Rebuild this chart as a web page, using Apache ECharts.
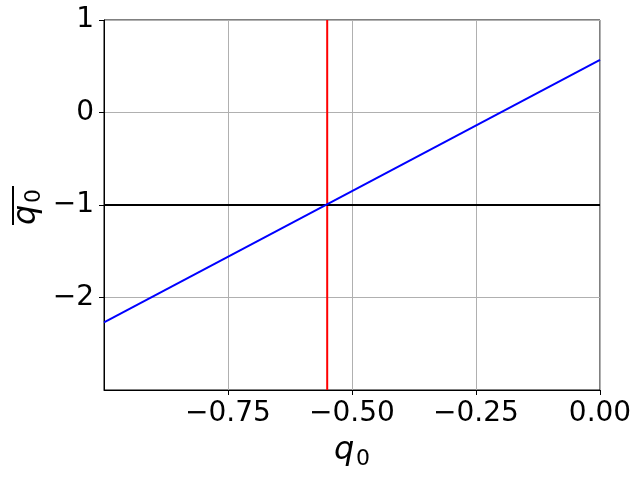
<!DOCTYPE html>
<html>
<head>
<meta charset="utf-8">
<script src="https://cdn.jsdelivr.net/npm/echarts@6/dist/echarts.min.js"></script>
<style>html,body{margin:0;padding:0;background:#fff}#c{width:641px;height:477px}</style>
</head>
<body>
<div id="c"></div>
<script>
// Data
const xTicks = [-0.75, -0.5, -0.25, 0];
const yTicks = [-2, -1, 0, 1];
const blueX = [-1, 0];
const blueY = [-2.27, 0.57];
const vlineX = -0.55;
const hlineY = -1;
const xRange = [-1, 0];
const yRange = [-3, 1];

const FONT = "'DejaVu Sans', sans-serif";
const xfmt = v => (v < 0 ? '\u2212' : '') + Math.abs(v).toFixed(2);
const yfmt = v => (v < 0 ? '\u2212' : '') + Math.abs(v);

const chart = echarts.init(document.getElementById('c'), null, {renderer: 'canvas'});
chart.setOption({
  animation: false,
  backgroundColor: '#fff',
  grid: {left: 104, right: 41, top: 20, bottom: 87, show: true, borderColor: '#000', borderWidth: 1, backgroundColor: 'transparent'},
  xAxis: {
    type: 'value', min: xRange[0], max: xRange[1], interval: 0.25,
    axisLine: {show: true, onZero: false, lineStyle: {color: '#000', width: 1}},
    axisTick: {show: true, inside: false, length: 5, customValues: xTicks, lineStyle: {color: '#000', width: 1}},
    splitLine: {show: true, lineStyle: {color: '#b0b0b0', width: 1}},
    axisLabel: {margin: 10, color: '#000', fontFamily: FONT, fontSize: 28, customValues: xTicks, formatter: xfmt}
  },
  yAxis: {
    type: 'value', min: yRange[0], max: yRange[1], interval: 1,
    axisLine: {show: true, onZero: false, lineStyle: {color: '#000', width: 1}},
    axisTick: {show: true, inside: false, length: 5, customValues: yTicks, lineStyle: {color: '#000', width: 1}},
    splitLine: {show: true, lineStyle: {color: '#b0b0b0', width: 1}},
    axisLabel: {margin: 10, color: '#000', fontFamily: FONT, fontSize: 28, customValues: yTicks, formatter: yfmt}
  },
  series: [
    {type: 'line', data: [[vlineX, yRange[0]], [vlineX, yRange[1]]], showSymbol: false, lineStyle: {color: '#ff0000', width: 2}, z: 3},
    {type: 'line', data: [[xRange[0], hlineY], [xRange[1], hlineY]], showSymbol: false, lineStyle: {color: '#000', width: 2}, z: 4},
    {type: 'line', data: blueX.map((x, i) => [x, blueY[i]]), showSymbol: false, lineStyle: {color: '#0000ff', width: 2}, z: 5}
  ],
  graphic: [
    {type: 'group', x: 334, y: 0, children: [
      {type: 'text', x: 0, y: 451, style: {text: 'q', fontFamily: FONT, fontStyle: 'italic', fontSize: 32, fill: '#000', verticalAlign: 'middle', align: 'left'}},
      {type: 'text', x: 22, y: 459, style: {text: '0', fontFamily: FONT, fontSize: 22, fill: '#000', verticalAlign: 'middle', align: 'left'}}
    ]},
    {type: 'group', x: 30, y: 204, rotation: Math.PI / 2, children: [
      {type: 'text', x: -21, y: -3.6, style: {text: 'q', fontFamily: FONT, fontStyle: 'italic', fontSize: 32, fill: '#000', verticalAlign: 'middle', align: 'left'}},
      {type: 'text', x: 1, y: 4.5, style: {text: '0', fontFamily: FONT, fontSize: 22, fill: '#000', verticalAlign: 'middle', align: 'left'}},
      {type: 'line', shape: {x1: -21, y1: -17, x2: 18, y2: -17}, style: {stroke: '#000', lineWidth: 2}}
    ]}
  ]
});
</script>
</body>
</html>
